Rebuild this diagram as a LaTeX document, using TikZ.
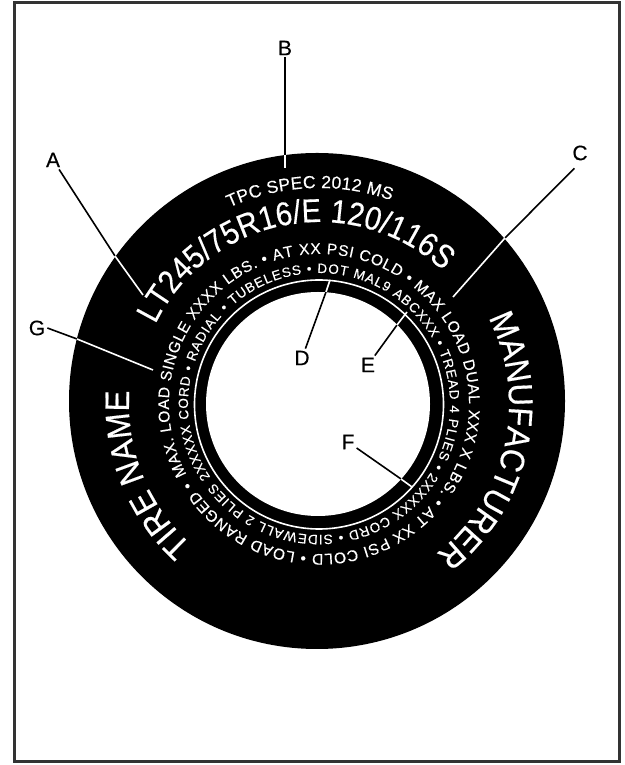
\documentclass[tikz,border=0pt]{standalone}
\usepackage{fontspec}
\setmainfont{Liberation Sans}
\usetikzlibrary{decorations.text}
\newfontfamily\bigtire[FakeStretch=0.92,FakeBold=0.4]{Liberation Sans}
\newfontfamily\sizetire[FakeStretch=0.88,FakeBold=0.4]{Liberation Sans}
\newfontfamily\smalltire[FakeBold=0.3]{Liberation Sans}
\newcommand{\bigtxt}{\color{white}\bigtire\fontsize{34}{34}\selectfont}
\newcommand{\sizetxt}{\color{white}\sizetire\fontsize{33}{33}\selectfont}
\newcommand{\spectxt}{\color{white}\smalltire\fontsize{17.5}{17.5}\selectfont}
\newcommand{\outertxt}{\color{white}\smalltire\fontsize{15.5}{15.5}\selectfont}
\newcommand{\innertxt}{\color{white}\smalltire\fontsize{13.5}{13.5}\selectfont}
\definecolor{FrameGrey}{HTML}{333333}
\tikzset{
    % Letter labels
    letternode/.style={
        font=\smalltire\fontsize{21}{21}\selectfont,
        inner sep=2pt
    },
    % Leader line over the white paper
    leaderblack/.style={
        draw=black,
        line width=1.6pt
    },
    % Leader line over the black tire
    leaderwhite/.style={
        draw=white,
        line width=1.6pt
    },
    % Text round the sidewall
    sidewall/.style={
        decorate,
        decoration={text along path, text align=fit to path, text={#1}}
    }
}
\begin{document}
\begin{tikzpicture}[x=1pt,y=1pt]
    \useasboundingbox (0,0) rectangle (624,765);
    \draw[FrameGrey,line width=3pt] (14,3) rectangle (619,762);

    % Tire
    \fill[black] (317,364) circle[radius=248];
    \fill[white] (318,361) circle[radius=112];
    \draw[white,line width=1.6pt] (319,360.5) circle[radius=124.5];

    % Sidewall text
    \path[sidewall={|\bigtxt|MANUFACTURER}] (319,361)+(27:190) arc[start angle=27,end angle=-51,radius=190];
    \path[sidewall={|\bigtxt|TIRE NAME}] (319,361)+(228:190) arc[start angle=228,end angle=176,radius=190];
    \path[sidewall={|\sizetxt|LT245/75R16/E 120/116S}] (319,361)+(154:182) arc[start angle=154,end angle=47,radius=182];
    \path[sidewall={|\spectxt|TPC SPEC 2012 MS}] (319,361)+(114.5:216) arc[start angle=114.5,end angle=70.5,radius=216];
    \path[sidewall={|\outertxt|MAX. LOAD SINGLE XXXX LBS. • AT XX PSI COLD • MAX LOAD DUAL XXX X LBS. • AT XX PSI COLD • LOAD RANGED •}] (319,361)+(208:150) arc[start angle=208,end angle=-149,radius=150];
    \path[sidewall={|\innertxt|2XXXXX CORD • RADIAL • TUBELESS • DOT MAL9 ABCXXX • TREAD 4 PLIES • 2XXXXX CORD • SIDEWALL 2 PLIES}] (319,361)+(214:131) arc[start angle=214,end angle=-143,radius=131];

    % Letters
    \node[letternode] (A) at (53,605) {A};
    \node[letternode] (B) at (285,717) {B};
    \node[letternode] (C) at (580,612) {C};
    \node[letternode] (D) at (302,407) {D};
    \node[letternode] (E) at (368,400) {E};
    \node[letternode] (F) at (348,323) {F};
    \node[letternode] (G) at (37,437) {G};

    % Where the leaders change colour
    \coordinate (Aedge) at (115,509);
    \coordinate (Aend) at (143,470);
    \coordinate (Bedge) at (285,610);
    \coordinate (Bend) at (285,597);
    \coordinate (Cedge) at (505,527);
    \coordinate (Cend) at (453,468);
    \coordinate (Dedge) at (326,473);
    \coordinate (Dend) at (330,485);
    \coordinate (Eedge) at (397,440);
    \coordinate (Eend) at (407,453);
    \coordinate (Fedge) at (401,286);
    \coordinate (Fend) at (412,278);
    \coordinate (Gedge) at (77,426);
    \coordinate (Gend) at (153,395);

    % Leaders
    \draw[leaderblack] (A) -- (Aedge);
    \draw[leaderwhite] (Aedge) -- (Aend);
    \draw[leaderblack] (B) -- (Bedge);
    \draw[leaderwhite] (Bedge) -- (Bend);
    \draw[leaderblack,shorten <=8pt] (C.south) -- (Cedge);
    \draw[leaderwhite] (Cedge) -- (Cend);
    \draw[leaderblack] (D) -- (Dedge);
    \draw[leaderwhite] (Dedge) -- (Dend);
    \draw[leaderblack] (E) -- (Eedge);
    \draw[leaderwhite] (Eedge) -- (Eend);
    \draw[leaderblack] (F) -- (Fedge);
    \draw[leaderwhite] (Fedge) -- (Fend);
    \draw[leaderblack] (G.east) -- (Gedge);
    \draw[leaderwhite] (Gedge) -- (Gend);
\end{tikzpicture}
\end{document}
